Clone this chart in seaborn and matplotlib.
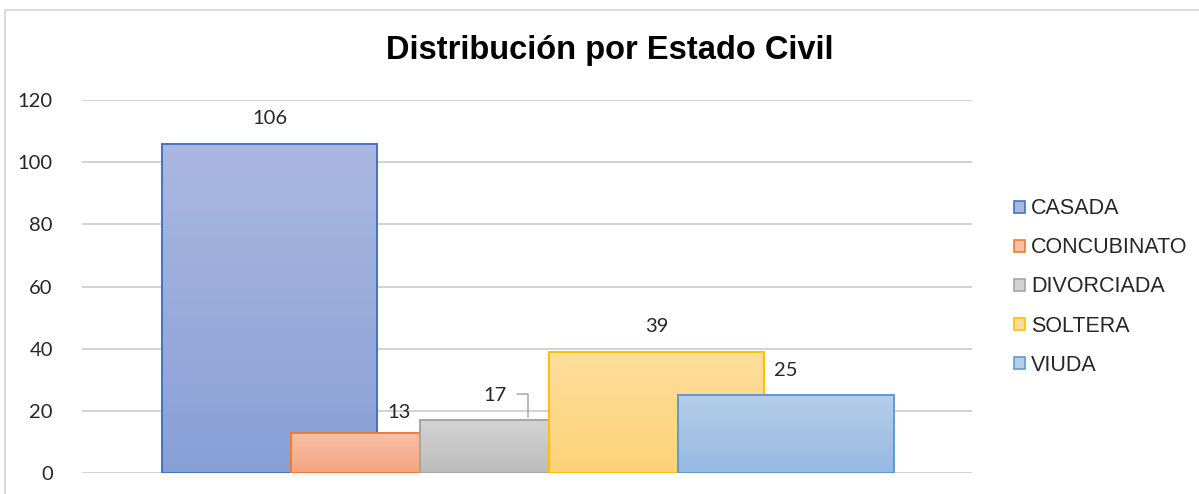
import numpy as np
import pandas as pd
import matplotlib.pyplot as plt
import seaborn as sns
from matplotlib.patches import Patch
from matplotlib.lines import Line2D

# Estado civil counts
categories = ["CASADA", "CONCUBINATO", "DIVORCIADA", "SOLTERA", "VIUDA"]
counts = [106, 13, 17, 39, 25]

# gradient (top, bottom) and edge colours per category
top_colors = ["#AAB8E1", "#F8C0A6", "#D3D3D3", "#FEDD9C", "#B5CDEA"]
bottom_colors = ["#889FD6", "#F4A481", "#BCBCBC", "#FFD27A", "#96B9E1"]
edge_colors = ["#4472C4", "#ED7D31", "#A5A5A5", "#FFC000", "#5B9BD5"]

df = pd.DataFrame({"estado": categories, "n": counts})

sns.set_style("white")
plt.rcParams["font.family"] = ["Liberation Sans", "DejaVu Sans"]

fig = plt.figure(figsize=(11.99, 4.94), dpi=100)
ax = fig.add_axes([82 / 1199, 1 - 473 / 494, 890 / 1199, 373 / 494])

sns.barplot(data=df, x="estado", y="n", hue="estado", order=categories,
            hue_order=categories, palette=dict(zip(categories, edge_colors)),
            width=1.667, legend=False, ax=ax)

# Excel-like vertical gradient fill, each bar clipped to its own rectangle
for i, p in enumerate(ax.patches):
    x0, y0 = p.get_x(), p.get_y()
    w, h = p.get_width(), p.get_height()
    c_top = np.array(plt.matplotlib.colors.to_rgb(top_colors[i]))
    c_bot = np.array(plt.matplotlib.colors.to_rgb(bottom_colors[i]))
    t = np.linspace(0, 1, 128)[:, None]
    grad = (c_top * (1 - t) + c_bot * t)[:, None, :]
    img = ax.imshow(grad, extent=(x0, x0 + w, y0, y0 + h), aspect="auto",
                    origin="upper", zorder=2 + 2 * i, interpolation="bilinear")
    img.set_clip_path(p)
    p.set_facecolor("none")
    p.set_edgecolor(edge_colors[i])
    p.set_linewidth(1.4)
    p.set_zorder(3 + 2 * i)

ax.set_xlim(-1.457, 5.442)
ax.set_ylim(0, 120)
ax.set_yticks(range(0, 121, 20))
ax.set_xticks([])
ax.set_xlabel("")
ax.set_ylabel("")
ax.yaxis.grid(True, color="#C6C6C6", linewidth=1.1)
ax.set_axisbelow(True)
for s in ax.spines.values():
    s.set_visible(False)
ax.tick_params(axis="y", length=0, pad=21, labelsize=14.5, labelcolor="#262626")
for lab in ax.get_yticklabels():
    lab.set_family(["Lato", "DejaVu Sans"])

# data labels
for i, v in enumerate(counts):
    if categories[i] == "DIVORCIADA":
        # dragged label with leader line
        ax.annotate(str(v), xy=(i, v), xytext=(-24, 18), textcoords="offset points",
                    ha="center", va="center", fontsize=14.5, color="#262626",
                    family=["Lato", "DejaVu Sans"], zorder=20)
        ax.annotate("", xy=(i, v), xytext=(-10, 18.7), textcoords="offset points",
                    arrowprops=dict(arrowstyle="-", color="#A5A5A5", lw=1.1,
                                    connectionstyle="angle,angleA=0,angleB=90,rad=0"),
                    zorder=20)
    else:
        off = 14.5 if v < 15 else 18
        ax.annotate(str(v), xy=(i, v), xytext=(0, off), textcoords="offset points",
                    ha="center", va="center", fontsize=14.5, color="#262626",
                    family=["Lato", "DejaVu Sans"], zorder=20)

fig.text(610 / 1199, 1 - 51 / 494, "Distribución por Estado Civil", ha="center",
         va="center", fontsize=23.5, fontweight="bold", color="black")

handles = [Patch(facecolor=top_colors[i], edgecolor=edge_colors[i], linewidth=1.2)
           for i in range(len(categories))]
fig.legend(handles, categories, loc="center left",
           bbox_to_anchor=(1014 / 1199, 1 - 287 / 494), bbox_transform=fig.transFigure,
           frameon=False, fontsize=15.5, handlelength=0.5, handleheight=0.5,
           handletextpad=0.3, labelspacing=0.84, borderpad=0, borderaxespad=0)

# chart area border (partly cropped on right and bottom)
fig.add_artist(Line2D([5 / 1199, 5 / 1199, 1.0], [0.0, 1 - 10 / 494, 1 - 10 / 494],
                      transform=fig.transFigure, color="#D9D9D9", linewidth=1.5))

fig.savefig("out.png", dpi=100)
